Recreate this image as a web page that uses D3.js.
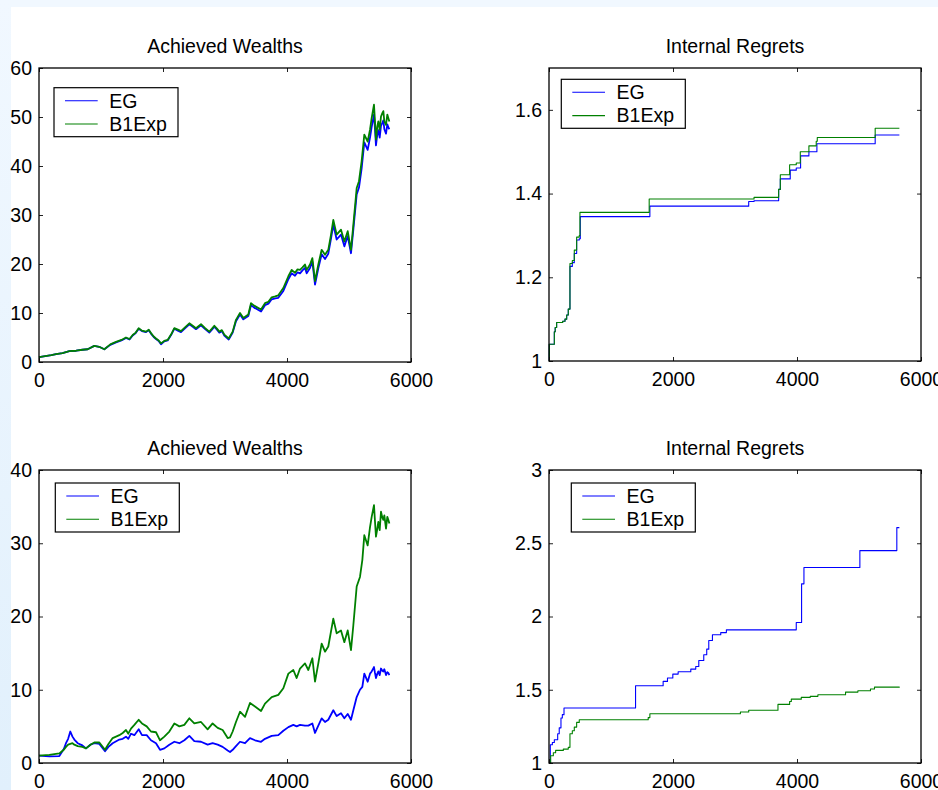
<!DOCTYPE html>
<html>
<head>
<meta charset="utf-8">
<script src="https://cdn.jsdelivr.net/npm/d3@7"></script>
<style>
  html, body { margin: 0; padding: 0; background: #fff; overflow: hidden; }
  text { font-family: 'Liberation Sans', Arial, Helvetica, sans-serif; }
</style>
</head>
<body>
<div id="chart"></div>
<script>
// ---- data ----
const seriesNames = ['EG', 'B1Exp'];
const xTicks = [0, 2000, 4000, 6000];

// top-left: achieved wealths (first experiment)
const wealthTopT = [0, 100, 200, 274, 380, 489, 600, 700, 785, 892, 970, 1054, 1150, 1242, 1330, 1403, 1460, 1511,
  1560, 1608, 1660, 1726, 1770, 1806, 1850, 1887, 1930, 1968, 2020, 2075, 2130, 2183, 2240, 2290, 2350, 2425,
  2480, 2532, 2613, 2680, 2747, 2790, 2828, 2870, 2909, 2950, 2989, 3060, 3124, 3177, 3242, 3296, 3376, 3419,
  3470, 3511, 3581, 3645, 3700, 3753, 3810, 3860, 3941, 4022, 4075, 4129, 4170, 4210, 4250, 4290, 4317, 4371,
  4409, 4452, 4505, 4559, 4613, 4666, 4710, 4747, 4801, 4871, 4925, 4979, 5032, 5070, 5124, 5161, 5204, 5247,
  5301, 5339, 5366, 5403, 5419, 5435, 5457, 5473, 5495, 5516, 5538, 5554, 5570, 5597, 5618, 5634, 5651];
const wealthTopB1Exp = [1.0, 1.2, 1.4, 1.6, 1.8, 2.2, 2.3, 2.5, 2.6, 3.3, 3.1, 2.6, 3.6, 4.1, 4.5, 5.0, 4.7, 5.5,
  6.0, 6.9, 6.4, 6.2, 6.6, 5.9, 5.2, 4.8, 4.4, 3.8, 4.3, 4.5, 5.6, 6.9, 6.6, 6.3, 7.0, 7.9,
  7.4, 6.9, 7.7, 6.9, 6.2, 6.8, 7.4, 6.8, 6.2, 6.5, 5.6, 4.8, 6.2, 8.6, 10.0, 9.0, 9.7, 12.0,
  11.5, 11.2, 10.7, 12.0, 12.3, 13.2, 13.4, 13.6, 15.1, 17.5, 18.8, 18.2, 18.9, 18.8, 19.3, 19.9, 18.8, 19.9,
  21.2, 16.5, 19.9, 22.9, 21.9, 22.9, 26.0, 29.0, 26.0, 27.0, 24.6, 26.7, 22.9, 28.0, 35.5, 36.9, 41.0, 46.4,
  45.0, 47.4, 49.8, 52.5, 49.1, 45.4, 48.1, 49.1, 47.4, 50.1, 50.8, 51.2, 49.1, 48.4, 50.5, 49.8, 49.1];
const wealthTopEG = [1.0, 1.2, 1.4, 1.6, 1.8, 2.2, 2.3, 2.5, 2.6, 3.3, 3.1, 2.6, 3.5, 4.0, 4.4, 4.9, 4.6, 5.4,
  5.9, 6.8, 6.3, 6.1, 6.5, 5.8, 5.1, 4.7, 4.3, 3.6, 4.2, 4.4, 5.5, 6.8, 6.4, 6.1, 6.8, 7.7,
  7.2, 6.7, 7.5, 6.7, 6.0, 6.6, 7.2, 6.6, 6.0, 6.3, 5.4, 4.6, 6.0, 8.3, 9.7, 8.7, 9.4, 11.6,
  11.1, 10.8, 10.3, 11.6, 11.9, 12.8, 13.0, 13.1, 14.5, 16.9, 18.1, 17.6, 18.3, 18.1, 18.7, 19.2, 18.1, 19.2,
  20.5, 15.8, 19.1, 22.0, 21.0, 22.1, 25.2, 28.0, 25.0, 26.0, 23.6, 25.7, 22.2, 27.0, 34.2, 35.6, 39.5, 44.8,
  43.3, 45.8, 48.0, 50.5, 47.5, 44.2, 46.5, 47.3, 45.8, 48.2, 48.8, 49.3, 47.5, 46.6, 48.5, 47.9, 47.5];

// bottom-left: achieved wealths (second experiment)
const wealthBottomT = [0, 167, 328, 400, 435, 470, 505, 540, 570, 624, 700, 758, 830, 892, 973, 1065, 1120, 1188,
  1296, 1350, 1403, 1440, 1484, 1538, 1608, 1661, 1737, 1806, 1887, 1952, 2022, 2102, 2183, 2264, 2344, 2425,
  2505, 2613, 2720, 2800, 2882, 2962, 3043, 3081, 3124, 3177, 3242, 3323, 3403, 3484, 3581, 3645, 3753, 3860,
  3941, 4022, 4102, 4156, 4210, 4290, 4344, 4409, 4452, 4505, 4559, 4613, 4666, 4747, 4801, 4871, 4925, 4979,
  5032, 5070, 5124, 5177, 5215, 5247, 5301, 5339, 5366, 5403, 5419, 5435, 5457, 5473, 5495, 5516, 5538, 5554,
  5570, 5597, 5618, 5634, 5651];
const wealthBottomB1Exp = [1.0, 1.1, 1.3, 1.8, 2.2, 2.5, 2.6, 2.7, 2.5, 2.3, 2.2, 2.0, 2.5, 2.8, 2.8, 1.8, 2.6, 3.4,
  3.8, 4.1, 4.5, 4.0, 4.7, 5.2, 5.9, 5.4, 5.0, 4.3, 4.2, 3.1, 3.6, 4.3, 5.4, 5.0, 5.2, 6.1,
  5.4, 5.6, 4.6, 5.4, 4.8, 4.5, 3.4, 3.5, 4.3, 5.6, 7.0, 6.3, 8.2, 7.7, 7.1, 8.1, 9.0, 9.3,
  10.2, 12.2, 12.7, 11.6, 12.9, 13.6, 12.7, 14.3, 11.1, 13.6, 16.3, 15.2, 15.9, 19.7, 17.7, 18.1, 16.5, 18.1,
  15.4, 18.8, 24.1, 25.4, 27.7, 31.1, 29.7, 32.2, 33.6, 35.2, 33.0, 30.9, 32.0, 32.9, 31.8, 34.3, 33.5, 33.2,
  33.8, 32.0, 33.6, 33.2, 32.7];
const wealthBottomEG = [1.0, 0.9, 0.95, 1.9, 2.7, 3.3, 4.3, 3.6, 3.2, 2.7, 2.4, 2.0, 2.5, 2.7, 2.6, 1.6, 2.2, 2.7,
  3.2, 3.3, 3.6, 3.3, 4.0, 3.8, 4.6, 3.8, 3.8, 3.1, 2.7, 1.8, 2.0, 2.5, 2.9, 2.7, 3.1, 3.7,
  3.0, 2.9, 2.5, 2.7, 2.5, 2.2, 1.7, 1.5, 1.8, 2.3, 2.9, 2.7, 3.4, 3.1, 2.9, 3.3, 3.7, 3.8,
  4.4, 4.9, 5.2, 5.0, 5.2, 5.1, 5.1, 5.4, 4.1, 5.1, 6.1, 5.6, 5.9, 7.2, 6.4, 6.8, 6.1, 6.7,
  5.9, 7.2, 9.0, 10.0, 10.4, 12.2, 11.1, 12.2, 12.5, 13.1, 12.3, 11.6, 12.2, 12.5, 12.0, 12.9, 12.6, 12.5,
  12.8, 12.0, 12.4, 12.3, 12.0];

// top-right: internal regrets (step values, value holds until next change)
const regretTopEGT = [0, 5, 86, 100, 123, 220, 258, 285, 311, 338, 376, 408, 446, 488, 505, 1627, 3221, 3307,
  3704, 3731, 3891, 3988, 4058, 4192, 4321, 5261, 5651];
const regretTopEG = [1.0, 1.04, 1.07, 1.08, 1.092, 1.095, 1.10, 1.11, 1.124, 1.226, 1.235, 1.257, 1.289, 1.292,
  1.345, 1.370, 1.381, 1.383, 1.41, 1.435, 1.456, 1.461, 1.49, 1.50, 1.519, 1.540, 1.540];
const regretTopB1ExpT = [0, 5, 86, 100, 123, 220, 258, 285, 311, 338, 376, 408, 446, 488, 499, 1616, 3307, 3704,
  3731, 3881, 3988, 4053, 4192, 4310, 4327, 5261, 5651];
const regretTopB1Exp = [1.0, 1.04, 1.07, 1.08, 1.092, 1.095, 1.10, 1.11, 1.124, 1.233, 1.24, 1.265, 1.296, 1.30,
  1.355, 1.387, 1.391, 1.41, 1.445, 1.469, 1.473, 1.50, 1.514, 1.525, 1.534, 1.556, 1.556];

// bottom-right: internal regrets
const regretBottomEGT = [0, 21, 54, 86, 140, 165, 193, 215, 242, 1396, 1841, 1911, 1997, 2083, 2287, 2367, 2416,
  2496, 2544, 2577, 2636, 2770, 2861, 3988, 4074, 4112, 5014, 5610, 5651];
const regretBottomEG = [1.0, 1.125, 1.14, 1.159, 1.20, 1.24, 1.307, 1.33, 1.375, 1.527, 1.557, 1.58, 1.607, 1.623,
  1.641, 1.659, 1.70, 1.739, 1.777, 1.836, 1.875, 1.89, 1.909, 1.959, 2.223, 2.334, 2.45, 2.607, 2.607];
const regretBottomB1ExpT = [0, 27, 70, 107, 231, 311, 338, 376, 408, 446, 488, 1600, 1627, 3087, 3221, 3693, 3881,
  3908, 4069, 4214, 4337, 4783, 4982, 5185, 5250, 5651];
const regretBottomB1Exp = [1.0, 1.05, 1.07, 1.086, 1.095, 1.107, 1.20, 1.22, 1.245, 1.277, 1.295, 1.31, 1.336,
  1.348, 1.36, 1.40, 1.42, 1.436, 1.448, 1.455, 1.466, 1.484, 1.493, 1.505, 1.518, 1.52];

// ---- layout ----
const width = 938, height = 790;
const fontSize = 19.5;
const colors = { EG: '#0000ff', B1Exp: '#008000' };

const svg = d3.select('#chart')
  .append('svg')
  .attr('width', width)
  .attr('height', height);

// light blue page border on the top and left
const grad = svg.append('defs').append('linearGradient')
  .attr('id', 'edge')
  .attr('x1', 0).attr('y1', 0).attr('x2', 0).attr('y2', 1);
grad.append('stop').attr('offset', '0%').attr('stop-color', '#f1f8ff');
grad.append('stop').attr('offset', '100%').attr('stop-color', '#e1f0fc');
svg.append('rect').attr('x', 0).attr('y', 0).attr('width', width).attr('height', 7).attr('fill', '#f1f8ff');
svg.append('rect').attr('x', 0).attr('y', 0).attr('width', 11).attr('height', height).attr('fill', 'url(#edge)');

function zip(ts, vs) {
  return ts.map((t, i) => [t, vs[i]]);
}

function drawPanel(cfg) {
  const x = d3.scaleLinear().domain([0, 6000]).range([cfg.left, cfg.right]);
  const y = d3.scaleLinear().domain(cfg.yDomain).range([cfg.bottom, cfg.top]);
  const g = svg.append('g');

  // title
  g.append('text')
    .attr('x', (cfg.left + cfg.right) / 2)
    .attr('y', cfg.top - 15)
    .attr('text-anchor', 'middle')
    .attr('font-size', fontSize)
    .attr('fill', '#000')
    .text(cfg.title);

  // lines
  cfg.series.forEach(s => {
    const line = d3.line()
      .x(d => x(d[0]))
      .y(d => y(d[1]))
      .curve(s.step ? d3.curveStepAfter : d3.curveLinear);
    g.append('path')
      .datum(s.data)
      .attr('d', line)
      .attr('fill', 'none')
      .attr('stroke', colors[s.name])
      .attr('stroke-width', s.step ? 1.1 : 1.8)
      .attr('stroke-linejoin', 'round');
  });

  // axes with inward ticks on all four sides
  const fmt = d => String(d);
  const axes = [
    { ax: d3.axisBottom(x).tickValues(xTicks).tickFormat(fmt).tickPadding(11), t: `translate(0,${cfg.bottom})` },
    { ax: d3.axisTop(x).tickValues(xTicks).tickFormat(''), t: `translate(0,${cfg.top})` },
    { ax: d3.axisLeft(y).tickValues(cfg.yTicks).tickFormat(fmt).tickPadding(7), t: `translate(${cfg.left},0)` },
    { ax: d3.axisRight(y).tickValues(cfg.yTicks).tickFormat(''), t: `translate(${cfg.right},0)` }
  ];
  axes.forEach(a => {
    const ag = g.append('g')
      .attr('transform', a.t)
      .call(a.ax.tickSizeInner(-4).tickSizeOuter(0));
    ag.select('.domain').remove();
    ag.selectAll('line').attr('stroke', '#222');
    ag.selectAll('text')
      .attr('font-size', fontSize)
      .attr('font-family', "'Liberation Sans', Arial, Helvetica, sans-serif")
      .attr('fill', '#000');
  });

  // frame
  g.append('rect')
    .attr('x', cfg.left)
    .attr('y', cfg.top)
    .attr('width', cfg.right - cfg.left)
    .attr('height', cfg.bottom - cfg.top)
    .attr('fill', 'none')
    .attr('stroke', '#000')
    .attr('stroke-width', 1.3);

  // legend
  const lg = g.append('g').attr('transform', `translate(${cfg.legend[0]},${cfg.legend[1]})`);
  lg.append('rect')
    .attr('width', 124)
    .attr('height', 49)
    .attr('fill', '#fff')
    .attr('stroke', '#000')
    .attr('stroke-width', 1.2);
  seriesNames.forEach((name, i) => {
    const ly = 13 + i * 23.3;
    lg.append('line')
      .attr('x1', 11).attr('x2', 43.7)
      .attr('y1', ly).attr('y2', ly)
      .attr('stroke', colors[name])
      .attr('stroke-width', 1.1);
    lg.append('text')
      .attr('x', 55.3)
      .attr('y', ly)
      .attr('dy', '0.35em')
      .attr('font-size', fontSize)
      .attr('fill', '#000')
      .text(name);
  });
}

const panels = [
  {
    title: 'Achieved Wealths', left: 39, right: 411, top: 68, bottom: 362,
    yDomain: [0, 60], yTicks: [0, 10, 20, 30, 40, 50, 60], legend: [54, 87.7],
    series: [
      { name: 'EG', data: zip(wealthTopT, wealthTopEG) },
      { name: 'B1Exp', data: zip(wealthTopT, wealthTopB1Exp) }
    ]
  },
  {
    title: 'Internal Regrets', left: 549, right: 921, top: 68, bottom: 361,
    yDomain: [1, 1.7], yTicks: [1, 1.2, 1.4, 1.6], legend: [561.3, 79.3],
    series: [
      { name: 'EG', step: true, data: zip(regretTopEGT, regretTopEG) },
      { name: 'B1Exp', step: true, data: zip(regretTopB1ExpT, regretTopB1Exp) }
    ]
  },
  {
    title: 'Achieved Wealths', left: 39, right: 411, top: 470, bottom: 763,
    yDomain: [0, 40], yTicks: [0, 10, 20, 30, 40], legend: [55.3, 483],
    series: [
      { name: 'EG', data: zip(wealthBottomT, wealthBottomEG) },
      { name: 'B1Exp', data: zip(wealthBottomT, wealthBottomB1Exp) }
    ]
  },
  {
    title: 'Internal Regrets', left: 549, right: 921, top: 470, bottom: 763,
    yDomain: [1, 3], yTicks: [1, 1.5, 2, 2.5, 3], legend: [571.3, 483],
    series: [
      { name: 'EG', step: true, data: zip(regretBottomEGT, regretBottomEG) },
      { name: 'B1Exp', step: true, data: zip(regretBottomB1ExpT, regretBottomB1Exp) }
    ]
  }
];

panels.forEach(drawPanel);
</script>
</body>
</html>
